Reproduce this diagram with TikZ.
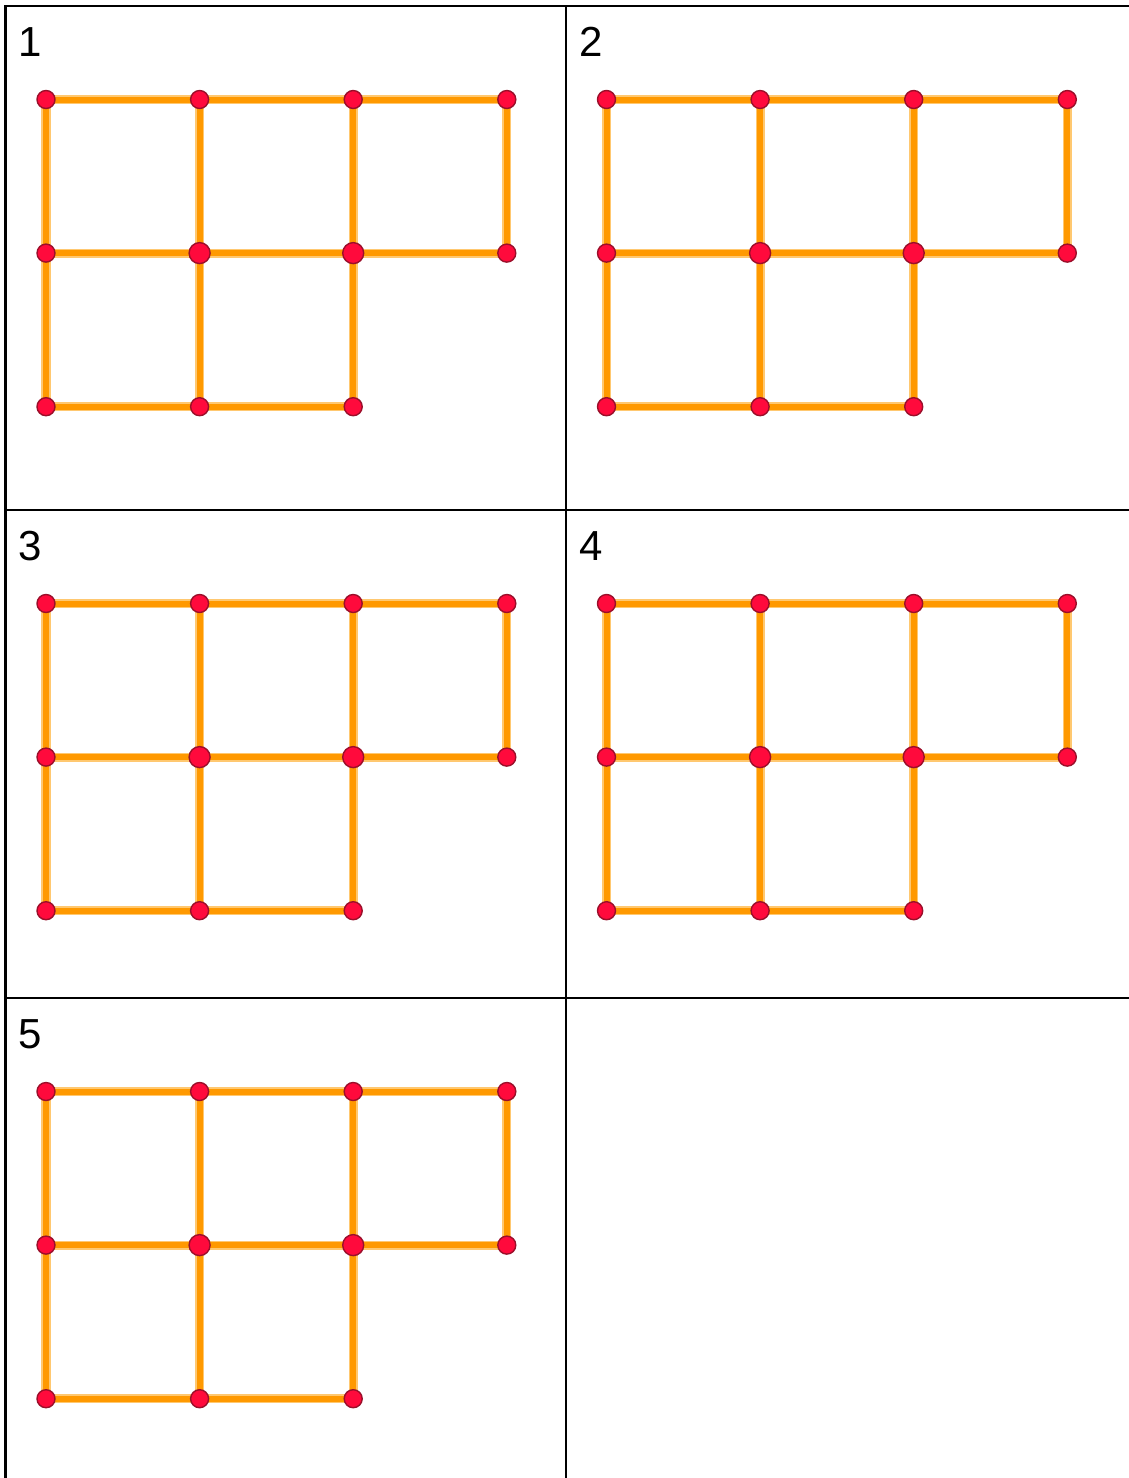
\documentclass[tikz,border=0pt]{standalone}
\usepackage{fontspec}
\setmainfont{Liberation Sans}
\usetikzlibrary{backgrounds}
\definecolor{stickcore}{HTML}{FF9900}
\definecolor{stickhalo}{HTML}{FFC870}
\definecolor{pinred}{HTML}{FF0A3C}
\definecolor{pinrim}{HTML}{9A0F2A}
\tikzset{x=.5pt,y=-.5pt,
  frame/.style={draw=black,line width=1.25pt},
  stick/.style={draw=stickhalo,double=stickcore,double distance=3pt,line width=.8pt,
    shorten <=-2pt,shorten >=-2pt},
  pin/.style={circle,fill=pinred,draw=pinrim,line width=.7pt,inner sep=0pt,minimum size=9pt},
  bigpin/.style={pin,minimum size=10.5pt},
  tag/.style={inner sep=0pt,font=\fontsize{21}{24}\selectfont}}
\begin{document}
\begin{tikzpicture}
\useasboundingbox (0,0) rectangle (1129,1478);
% cell borders
\draw[frame] (4.3,6)--(1129,6);\draw[frame] (5.5,6)--(5.5,1478);
\draw[frame] (566,6)--(566,1478);
\draw[frame] (5.5,510)--(1129,510);\draw[frame] (5.5,998)--(1129,998);
% five copies of the matchstick figure
\foreach \n/\ox/\oy in {1/5.5/6,2/566/6,3/5.5/510,4/566/510,5/5.5/998}{
  \node[tag] (tag\n) at (\ox+25,\oy+36) {\n};
  \foreach \i/\j in {0/0,1/0,2/0,3/0,0/1,3/1,0/2,1/2,2/2}
    \node[pin] (p\n-\i\j) at (\ox+40.5+153.6*\i,\oy+93.5+153.6*\j) {};
  \foreach \i in {1,2}
    \node[bigpin] (p\n-\i1) at (\ox+40.5+153.6*\i,\oy+93.5+153.6) {};
  \begin{scope}[on background layer]
    \foreach \a/\b in {00/10,10/20,20/30,01/11,11/21,21/31,02/12,12/22,
        00/01,01/02,10/11,11/12,20/21,21/22,30/31}
      \draw[stick] (p\n-\a)--(p\n-\b);
  \end{scope}
}
\end{tikzpicture}
\end{document}
